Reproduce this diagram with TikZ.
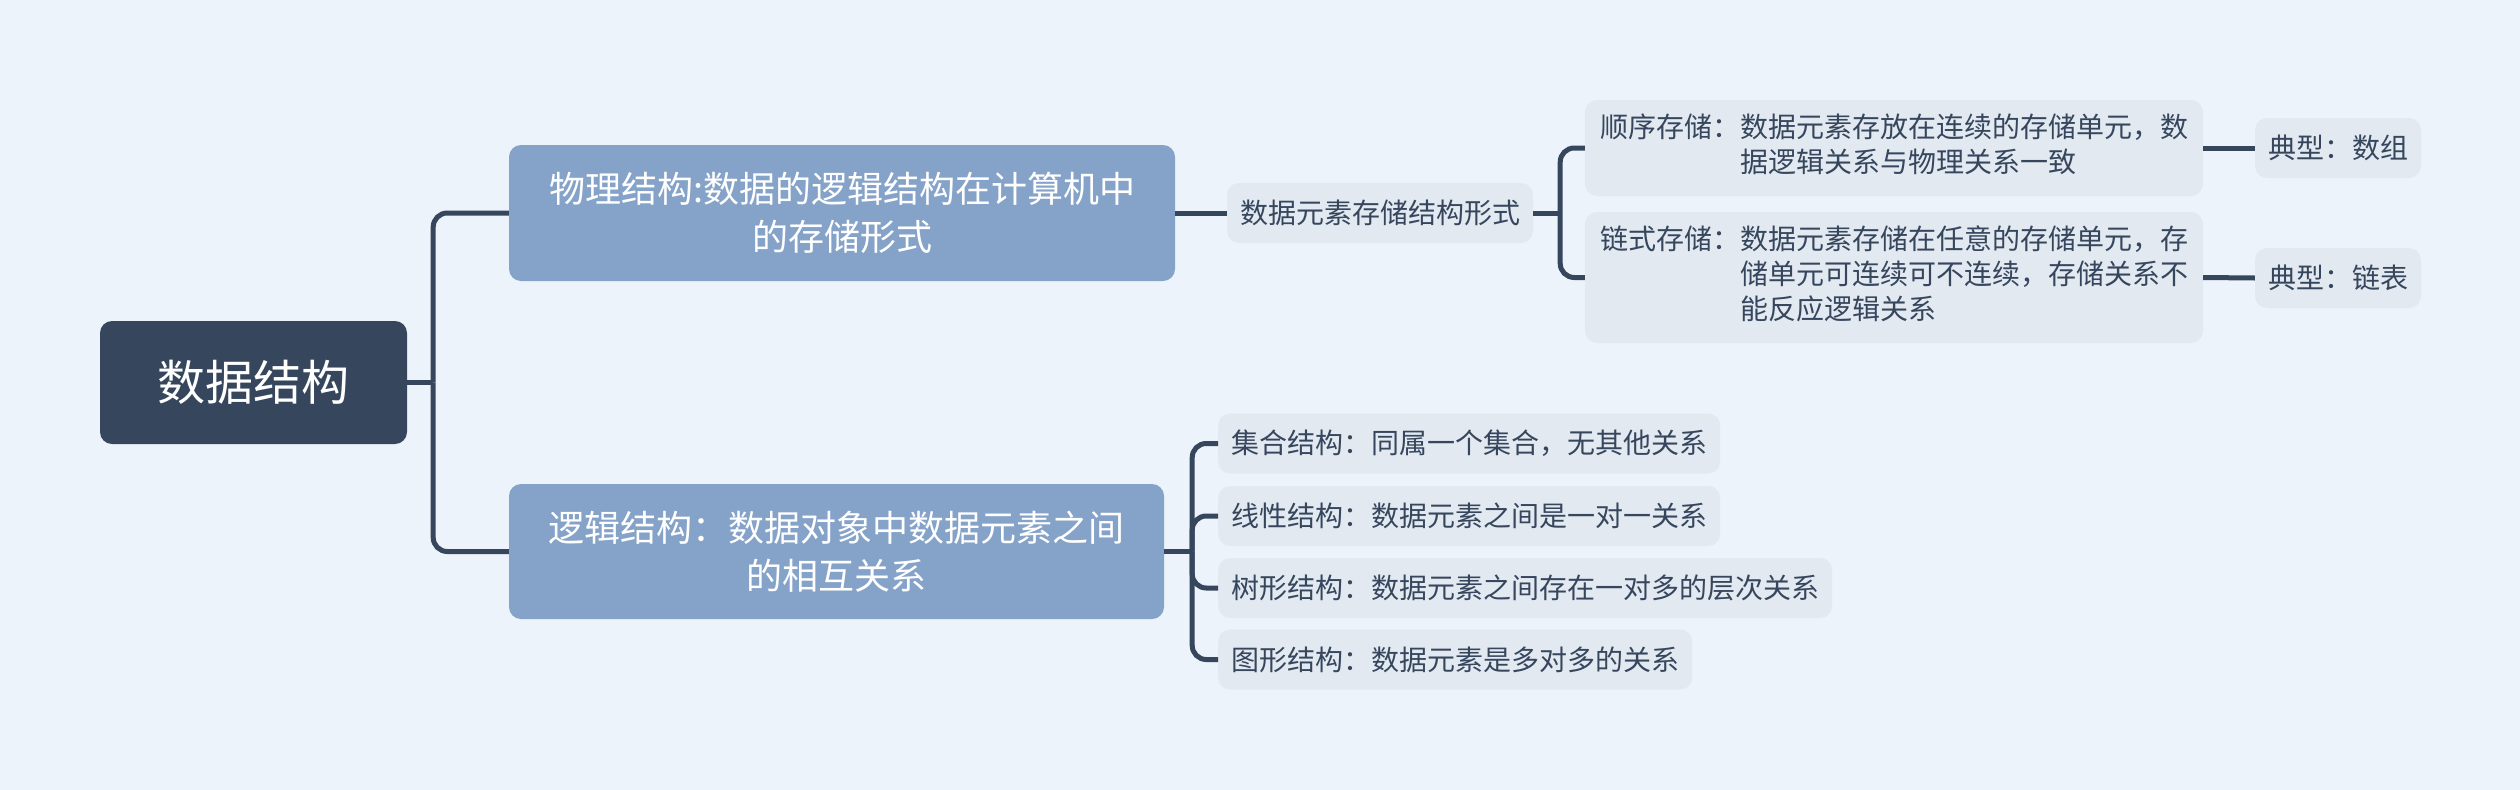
\documentclass[tikz,border=0pt]{standalone}
\usepackage{fontspec}
\setmainfont{Noto Sans CJK SC}
\definecolor{bgc}{HTML}{EDF3FA}
\definecolor{rootc}{HTML}{36465D}
\definecolor{lonec}{HTML}{85A2C8}
\definecolor{ltwoc}{HTML}{E2E9F1}
\definecolor{txtc}{HTML}{36465D}
\definecolor{linec}{HTML}{36465D}
\begin{document}
\begin{tikzpicture}[x=1pt,y=-1pt,
  rootbox/.style={fill=rootc, rounded corners=12pt, text=white, font=\fontsize{48}{58}\selectfont, minimum width=307pt, minimum height=123pt, inner sep=0pt},
  lonebox/.style={fill=lonec, rounded corners=12pt, text=white, font=\fontsize{36}{48}\selectfont, align=center, inner sep=0pt},
  ltwobox/.style={fill=ltwoc, rounded corners=12pt, text=txtc, font=\fontsize{28}{35}\selectfont, inner xsep=13pt, inner ysep=0pt, minimum height=60pt},
  conn/.style={draw=linec, line width=5pt, rounded corners=14pt}
]
\useasboundingbox[fill=bgc] (0,0) rectangle (2520,790);

\node[rootbox] (root) at (253.5,382.5) {数据结构};
\node[lonebox, minimum width=666pt, minimum height=136pt] (phys) at (842,213) {物理结构:数据的逻辑结构在计算机中\\的存储形式};
\node[lonebox, minimum width=655pt, minimum height=135pt] (logic) at (836.5,551.5) {逻辑结构：数据对象中数据元素之间\\的相互关系};

\node[ltwobox] (form) at (1380,213) {数据元素存储结构形式};
\node[ltwobox, minimum width=618pt, minimum height=96pt] (seq) at (1894,148) {\begin{tabular}{@{}l@{}l@{}}顺序存储：&数据元素存放在连续的存储单元，数\\&据逻辑关系与物理关系一致\end{tabular}};
\node[ltwobox, minimum width=618pt, minimum height=131pt] (link) at (1894,277.5) {\begin{tabular}{@{}l@{}l@{}}链式存储：&数据元素存储在任意的存储单元，存\\&储单元可连续可不连续，存储关系不\\&能反应逻辑关系\end{tabular}};
\node[ltwobox, minimum width=162pt] (arr) at (2338,148) {典型：数组};
\node[ltwobox, minimum width=162pt] (list) at (2338,278) {典型：链表};

\node[ltwobox, anchor=west] (set) at (1218,443.5) {集合结构：同属一个集合，无其他关系};
\node[ltwobox, anchor=west] (lin) at (1218,516) {线性结构：数据元素之间是一对一关系};
\node[ltwobox, anchor=west] (tree) at (1218,588) {树形结构：数据元素之间存在一对多的层次关系};
\node[ltwobox, anchor=west] (graph) at (1218,659.5) {图形结构：数据元素是多对多的关系};

\coordinate (jroot) at ([xshift=26pt]root.east);
\coordinate (jform) at ([xshift=27pt]form.east);
\coordinate (jlogic) at ([xshift=28pt]logic.east);

\draw[conn] (root.east) -- (jroot);
\draw[conn] (jroot) |- (phys.west);
\draw[conn] (jroot) |- (logic.west);
\draw[conn] (phys.east) -- (form.west);
\draw[conn] (form.east) -- (jform);
\draw[conn] (jform) |- (seq.west);
\draw[conn] (jform) |- (link.west);
\draw[conn] (seq.east) -- (arr.west);
\draw[conn] (link.east) -- (list.west);
\draw[conn] (logic.east) -- (jlogic);
\draw[conn] (jlogic) |- (set.west);
\draw[conn] (jlogic) |- (lin.west);
\draw[conn] (jlogic) |- (tree.west);
\draw[conn] (jlogic) |- (graph.west);
\end{tikzpicture}
\end{document}
